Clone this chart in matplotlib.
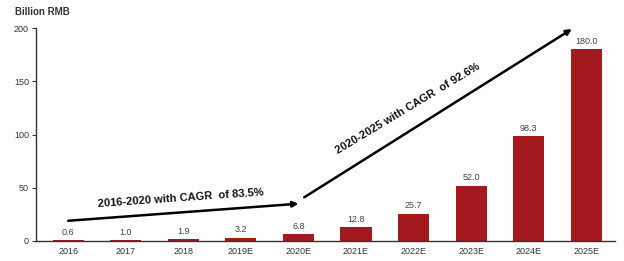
import matplotlib.pyplot as plt

plt.rcParams['font.family'] = ['Liberation Sans', 'DejaVu Sans']

# Data
years = ['2016', '2017', '2018', '2019E', '2020E',
         '2021E', '2022E', '2023E', '2024E', '2025E']
values = [0.6, 1.0, 1.9, 3.2, 6.8, 12.8, 25.7, 52.0, 98.3, 180.0]
value_labels = ['0.6', '1.0', '1.9', '3.2', '6.8',
                '12.8', '25.7', '52.0', '98.3', '180.0']
y_ticks = [0, 50, 100, 150, 200]

fig = plt.figure(figsize=(6.24, 2.61), dpi=100)
ax = fig.add_axes([36 / 624, 20 / 261, (615 - 36) / 624, 213 / 261])

x = list(range(len(years)))
ax.bar(x, values, width=0.54, color='#A3191D')

# Value labels
for xi, v, lab in zip(x, values, value_labels):
    ax.text(xi, v + 3, lab, ha='center', va='bottom', fontsize=6.5, color='#444444')

ax.set_xlim(-0.56, 9.5)
ax.set_ylim(0, 200)
ax.set_xticks(x)
ax.set_xticklabels(years, fontsize=6.5, color='#333333')
ax.set_yticks(y_ticks)
ax.set_yticklabels([str(t) for t in y_ticks], fontsize=6.5, color='#333333')
ax.tick_params(axis='x', length=0, pad=4)
ax.tick_params(axis='y', length=3, width=0.8, pad=2, color='#333333')

for s in ['top', 'right']:
    ax.spines[s].set_visible(False)
for s in ['left', 'bottom']:
    ax.spines[s].set_color('#333333')
    ax.spines[s].set_linewidth(1.0)

# CAGR arrows
ax.annotate('', xy=(4.0, 35), xytext=(0.0, 19),
            arrowprops=dict(arrowstyle='-|>', color='black', lw=1.8,
                            mutation_scale=8, shrinkA=0, shrinkB=0))
ax.annotate('', xy=(8.75, 199), xytext=(4.1, 41),
            arrowprops=dict(arrowstyle='-|>', color='black', lw=1.8,
                            mutation_scale=8, shrinkA=0, shrinkB=0))

ax.text(1.95, 40, '2016-2020 with CAGR  of 83.5%', ha='center', va='center',
        rotation=4, fontsize=8, fontweight='bold', color='#111111')
ax.text(5.9, 124, '2020-2025 with CAGR  of 92.6%', ha='center', va='center',
        rotation=31, fontsize=8, fontweight='bold', color='#111111')

fig.text(15 / 624, 1 - 12 / 261, 'Billion RMB', ha='left', va='center',
         fontsize=7, fontweight='bold', color='#333333')

fig.savefig('out.png', dpi=100)
